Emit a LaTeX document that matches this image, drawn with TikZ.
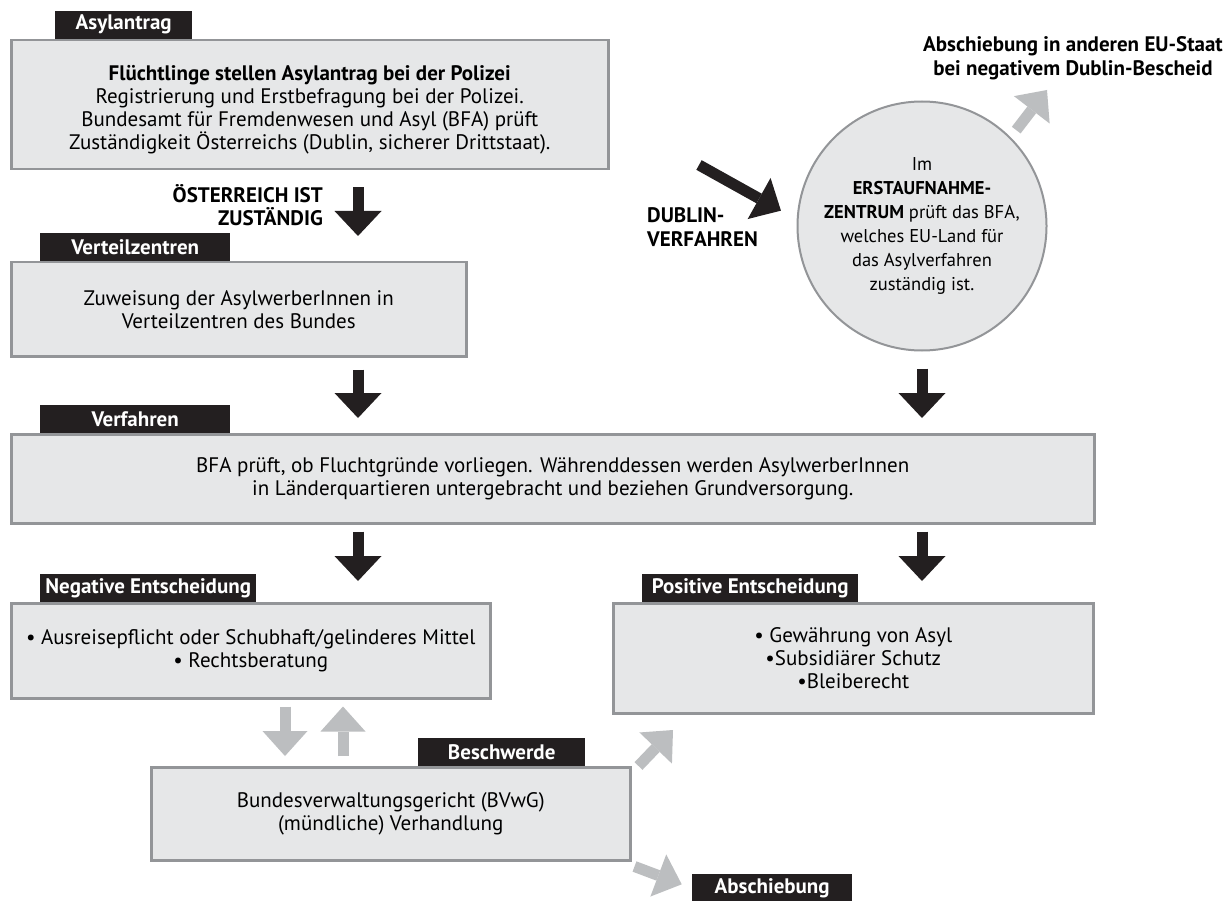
\documentclass[tikz,border=0pt]{standalone}
\usepackage{fontspec}
\setmainfont{PT Sans}
\usetikzlibrary{positioning,arrows.meta}
\definecolor{boxfill}{HTML}{E6E7E8}
\definecolor{boxline}{HTML}{939598}
\definecolor{tabblack}{HTML}{231F20}
\definecolor{arrowgrey}{HTML}{BCBEC0}

\begin{document}
\begin{tikzpicture}[
    x=1pt, y=-1pt,
    font=\fontsize{21}{23}\selectfont,
    box/.style={rectangle, draw=boxline, line width=2.5pt, fill=boxfill, align=center, anchor=north west, inner sep=0pt},
    tab/.style={rectangle, fill=tabblack, text=white, font=\fontsize{21}{23}\selectfont\bfseries, minimum height=28pt, inner sep=0pt, anchor=south west},
    note/.style={font=\fontsize{21}{23.5}\selectfont\bfseries, inner sep=0pt},
    darrow/.style={line width=11pt, draw=tabblack, -{Triangle[width=47pt, length=25pt, line width=0pt]}},
    garrow/.style={line width=11pt, draw=arrowgrey, -{Triangle[width=45pt, length=25pt, line width=0pt]}}
]
    \path[fill=white] (0,0) rectangle (1226,901);
    \useasboundingbox (0,0) rectangle (1226,901);

    % Boxes of the procedure
    \node[box, minimum width=597pt, minimum height=129pt] (asyl) at (10,39) {\rule{0pt}{26pt}\textbf{Flüchtlinge stellen Asylantrag bei der Polizei}\\ Registrierung und Erstbefragung bei der Polizei.\\ Bundesamt für Fremdenwesen und Asyl (BFA) prüft\\ Zuständigkeit Österreichs (Dublin, sicherer Drittstaat).};
    \node[box, minimum width=455pt, minimum height=94pt] (vert) at (10,261) {Zuweisung der AsylwerberInnen in\\ Verteilzentren des Bundes};
    \node[box, minimum width=1083pt, minimum height=89pt] (verf) at (10,433) {BFA prüft, ob Fluchtgründe vorliegen. Währenddessen werden AsylwerberInnen\\ in Länderquartieren untergebracht und beziehen Grundversorgung.};
    \node[box, minimum width=479pt, minimum height=95pt] (neg) at (10,602) {\textbullet\ Ausreisepflicht oder Schubhaft/gelinderes Mittel\\ \textbullet\ Rechtsberatung};
    \node[box, minimum width=480pt, minimum height=110pt] (pos) at (612,602) {\textbullet\ Gewährung von Asyl\\ \textbullet Subsidiärer Schutz\\ \textbullet Bleiberecht};
    \node[box, minimum width=479pt, minimum height=93pt] (bvwg) at (150,766) {Bundesverwaltungsgericht (BVwG)\\ (mündliche) Verhandlung};
    \node[circle, draw=boxline, line width=2pt, fill=boxfill, minimum size=249pt, inner sep=0pt, align=center, font=\fontsize{18.5}{24}\selectfont] (circ) at (922,226) {Im\\ \textbf{ERSTAUFNAHME-}\\ \textbf{ZENTRUM} prüft das BFA,\\ welches EU-Land für\\ das Asylverfahren\\ zuständig ist.};

    % Black tabs
    \node[tab, minimum width=137pt, above right=0pt and 45pt of asyl.north west] (asyltab) {Asylantrag};
    \node[tab, minimum width=190pt, above right=0pt and 30pt of vert.north west] (verttab) {Verteilzentren};
    \node[tab, minimum width=190pt, above right=0pt and 30pt of verf.north west] (verftab) {Verfahren};
    \node[tab, minimum width=216pt, above right=0pt and 30pt of neg.north west] (negtab) {Negative Entscheidung};
    \node[tab, minimum width=216pt, above right=0pt and 30pt of pos.north west] (postab) {Positive Entscheidung};
    \node[tab, minimum width=167pt, above right=0pt and 268pt of bvwg.north west] (bvwgtab) {Beschwerde};
    \node[tab, minimum width=160pt, anchor=north west] (absch) at (692,874) {Abschiebung};

    % Free labels
    \node[note, align=right, anchor=east] (zust) at (323,205) {ÖSTERREICH IST\\ ZUSTÄNDIG};
    \node[note, align=left, anchor=west] (dubl) at (647,227) {DUBLIN-\\ VERFAHREN};
    \node[note, align=center] (eutext) at (1073,58) {Abschiebung in anderen EU-Staat\\ bei negativem Dublin-Bescheid};

    \coordinate (colL) at (358,0);
    \coordinate (colR) at (922,0);
    \coordinate (gDown) at (285,0);
    \coordinate (gUp) at (343,0);
    \coordinate (dubTail) at (699,165);
    \coordinate (euTip) at (1047,90);
    \coordinate (posTip) at (673,730);

    % Arrows
    \draw[darrow, shorten <=17pt, shorten >=25pt] (asyl.south -| colL) -- (vert.north -| colL);
    \draw[darrow, shorten <=12pt, shorten >=15pt] (vert.south -| colL) -- (verf.north -| colL);
    \draw[darrow, shorten <=17pt, shorten >=15pt] (circ.south) -- (verf.north -| circ.south);
    \draw[darrow, shorten <=7pt, shorten >=21pt] (verf.south -| colL) -- (neg.north -| colL);
    \draw[darrow, shorten <=7pt, shorten >=21pt] (verf.south -| colR) -- (pos.north -| colR);
    \draw[darrow, shorten >=18pt] (dubTail) -- (circ.177);
    \draw[garrow, shorten <=9pt] (circ.45) -- (euTip);
    \draw[garrow, shorten <=7pt, shorten >=10pt] (neg.south -| gDown) -- (bvwg.north -| gDown);
    \draw[garrow, shorten <=10pt, shorten >=7pt] (bvwg.north -| gUp) -- (neg.south -| gUp);
    \draw[garrow] ([xshift=7pt]bvwg.north east) -- (posTip);
    \draw[garrow, shorten >=11pt] ([shift={(3pt,-5pt)}]bvwg.south east) -- (absch.west);
\end{tikzpicture}
\end{document}
